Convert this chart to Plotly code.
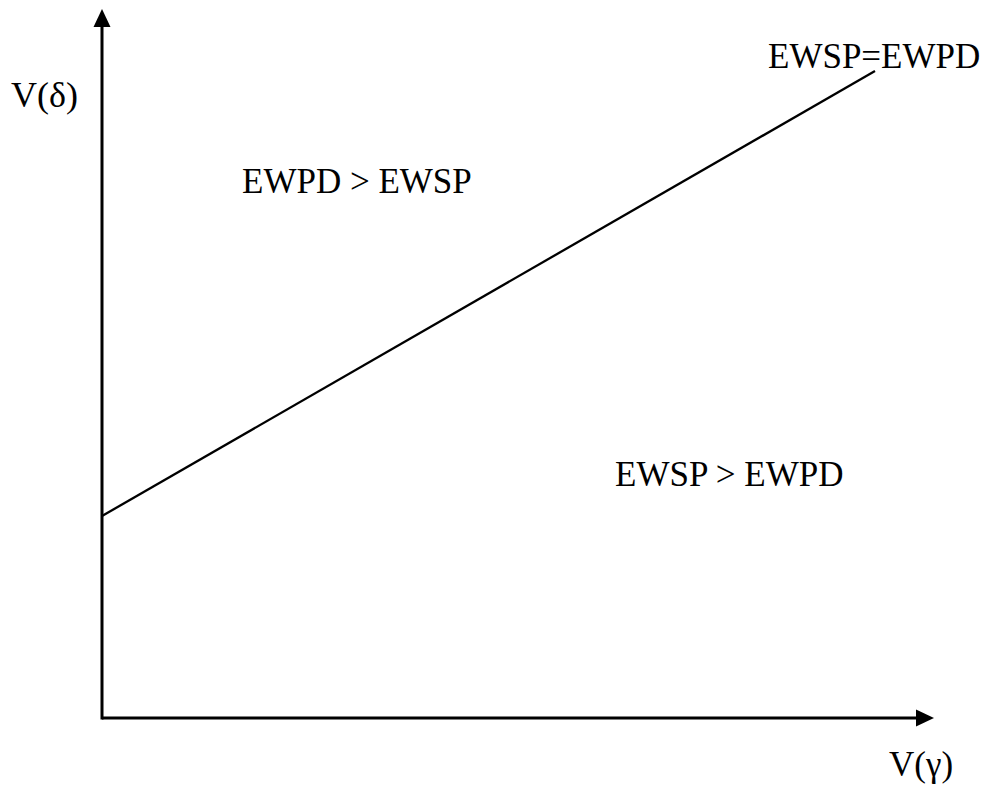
import plotly.graph_objects as go

# Data (abstract units; origin at axes intersection)
v_gamma = [0.0, 7.73]
v_delta = [2.02, 6.47]

x_axis_end = 8.32
y_axis_end = 7.09

labels = ["EWPD > EWSP", "EWSP > EWPD", "EWSP=EWPD"]
label_x = [2.55, 6.27, 7.72]
label_y = [5.37, 2.44, 6.62]

FONT = "Liberation Serif, Times New Roman, serif"
FS = 35

fig = go.Figure()
fig.add_trace(go.Scatter(x=v_gamma, y=v_delta, mode="lines",
                         line=dict(color="black", width=2.3), showlegend=False,
                         hoverinfo="skip"))

shapes = [
    dict(type="line", x0=0, y0=0, x1=x_axis_end - 0.16, y1=0, xref="x", yref="y",
         line=dict(color="black", width=3)),
    dict(type="line", x0=0, y0=-0.015, x1=0, y1=y_axis_end - 0.16, xref="x", yref="y",
         line=dict(color="black", width=3)),
    # arrowheads (pixel-sized, anchored at axis tips)
    dict(type="path", xref="x", yref="y", xsizemode="pixel", ysizemode="pixel",
         xanchor=x_axis_end, yanchor=0, path="M 0 0 L -18 8.5 L -18 -8.5 Z",
         fillcolor="black", line=dict(color="black", width=0)),
    dict(type="path", xref="x", yref="y", xsizemode="pixel", ysizemode="pixel",
         xanchor=0, yanchor=y_axis_end, path="M 0 0 L -8.5 -18 L 8.5 -18 Z",
         fillcolor="black", line=dict(color="black", width=0)),
]

annotations = []
for t, x, y in zip(labels, label_x, label_y):
    annotations.append(dict(x=x, y=y, text=t, showarrow=False, xref="x", yref="y",
                            font=dict(family=FONT, size=FS, color="black")))
annotations.append(dict(x=-0.58, y=6.23, text="V(δ)", showarrow=False, xref="x", yref="y",
                        font=dict(family=FONT, size=FS + 1, color="black")))
annotations.append(dict(x=8.19, y=-0.46, text="V(γ)", showarrow=False, xref="x", yref="y",
                        font=dict(family=FONT, size=FS, color="black")))

fig.update_layout(
    width=988, height=794,
    margin=dict(l=0, r=0, t=0, b=0),
    paper_bgcolor="white", plot_bgcolor="white",
    xaxis=dict(range=[-0.94, 8.94], visible=False, fixedrange=True),
    yaxis=dict(range=[-0.84, 7.10], visible=False, fixedrange=True),
    shapes=shapes, annotations=annotations,
    showlegend=False,
)

fig.write_html("out.html")
